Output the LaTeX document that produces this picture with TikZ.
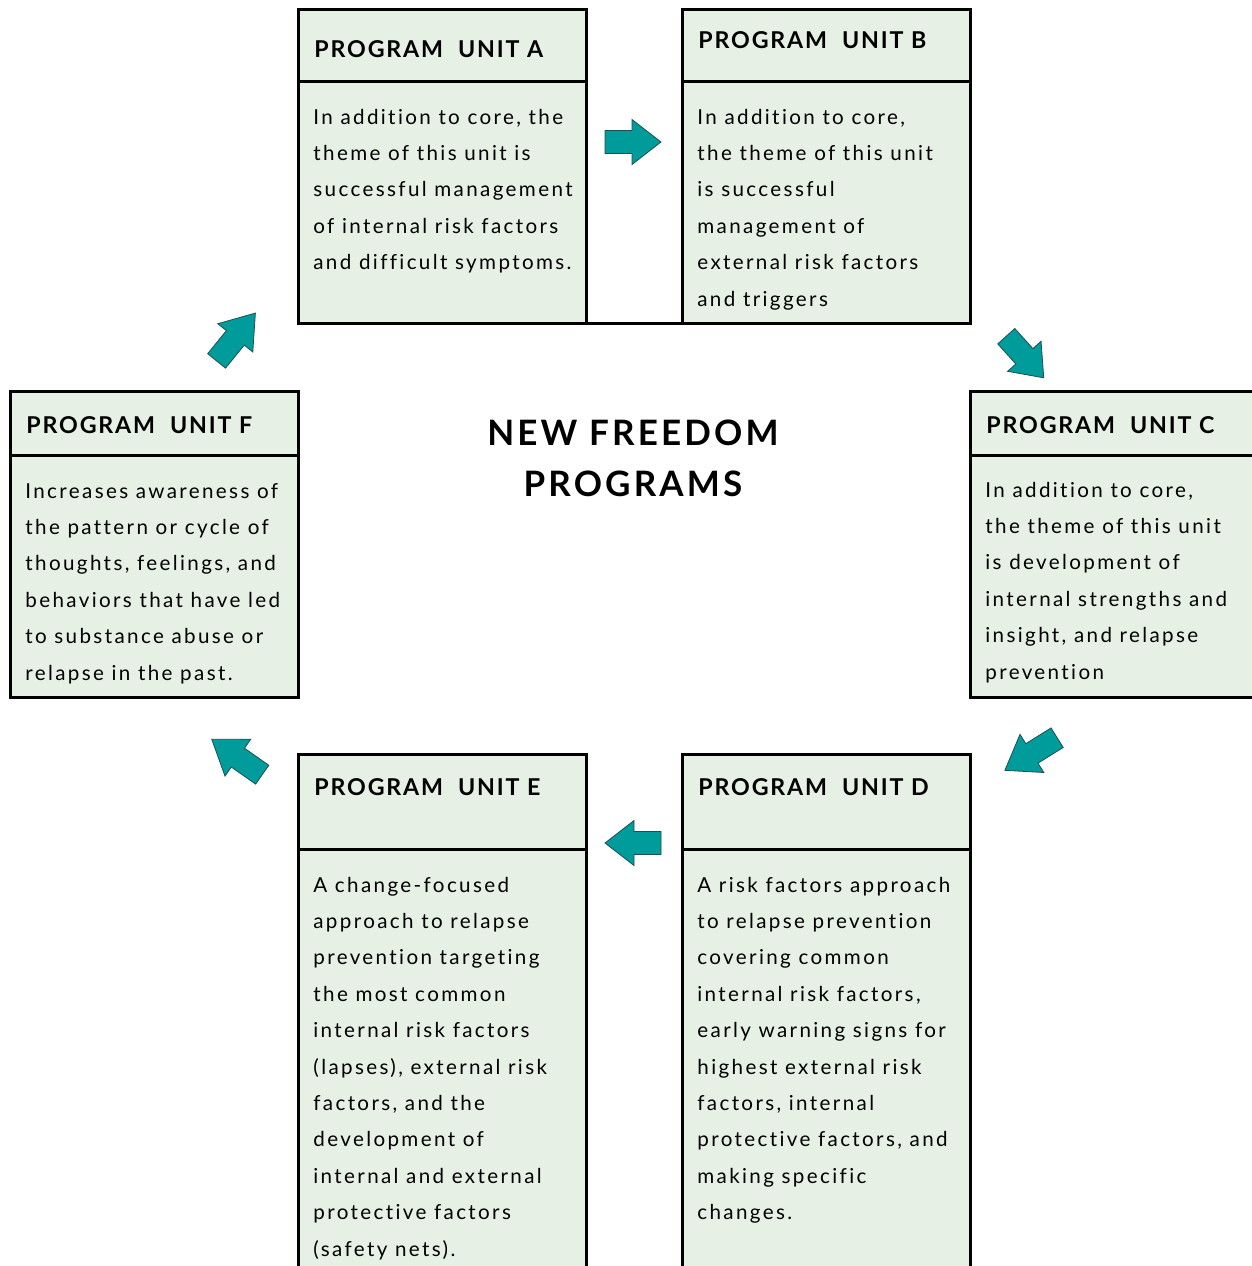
\documentclass[tikz,border=0pt]{standalone}
\usepackage{fontspec}
\setmainfont{Lato}
\newfontfamily\bodyfont{Lato}[LetterSpace=11.5,Ligatures={NoCommon,NoRare,NoContextual}]
\newfontfamily\headfont{Lato}[LetterSpace=8]
\newfontfamily\titlefont{Lato}[LetterSpace=9]
\definecolor{boxfill}{HTML}{E6F0E5}
\definecolor{teal}{HTML}{009C9C}
\definecolor{tealedge}{HTML}{1E4F4F}
\tikzset{
  unitbox/.style={fill=boxfill,draw=black,line width=1.5pt},
  divider/.style={draw=black,line width=1.5pt},
  headtxt/.style={anchor=base west,inner sep=0pt,font=\headfont\bfseries\fontsize{11.6}{14}\selectfont},
  bodytxt/.style={anchor=base west,inner sep=0pt,align=left,font=\bodyfont\fontsize{10.3}{18.2}\selectfont},
  titletxt/.style={inner sep=0pt,align=center,font=\titlefont\bfseries\fontsize{17.5}{25.5}\selectfont},
  pics/blockarrow/.style={code={
    \draw[fill=teal,draw=tealedge,line width=0.4pt]
      (-28,-11.5) -- (-1,-11.5) -- (-1,-22.5) -- (28,0) -- (-1,22.5) -- (-1,11.5) -- (-28,11.5) -- cycle;
  }}
}
\begin{document}
\begin{tikzpicture}[x=0.5pt,y=-0.5pt]
\useasboundingbox (0,0) rectangle (1252,1266);
\begin{scope}
\clip (0,0) rectangle (1252,1266);
% boxes
\draw[unitbox] (298,9) rectangle (586,323);
\draw[divider] (298,81) -- (586,81);
\draw[unitbox] (682,9) rectangle (970,323);
\draw[divider] (682,81) -- (970,81);
\draw[divider] (586,323) -- (682,323);
\draw[unitbox] (970,391) rectangle (1262,697);
\draw[divider] (970,455) -- (1262,455);
\draw[unitbox] (10,391) rectangle (298,697);
\draw[divider] (10,455) -- (298,455);
\draw[unitbox] (298,754) rectangle (586,1280);
\draw[divider] (298,849) -- (586,849);
\draw[unitbox] (682,754) rectangle (970,1280);
\draw[divider] (682,849) -- (970,849);
\end{scope}
% headers
\node[headtxt] (hA) at (314,57) {PROGRAM\ \ UNIT A};
\node[headtxt] (hB) at (698,48) {PROGRAM\ \ UNIT B};
\node[headtxt] (hC) at (986,433) {PROGRAM\ \ UNIT C};
\node[headtxt] (hF) at (26,433) {PROGRAM\ \ UNIT F};
\node[headtxt] (hE) at (314,795) {PROGRAM\ \ UNIT E};
\node[headtxt] (hD) at (698,795) {PROGRAM\ \ UNIT D};
% bodies (anchored at the baseline of the last line)
\node[bodytxt] (bA) at (313,269.6) {In addition to core, the\\theme of this unit is\\successful management\\of internal risk factors\\and difficult symptoms.};
\node[bodytxt] (bB) at (697,306) {In addition to core,\\the theme of this unit\\is successful\\management of\\external risk factors\\and triggers};
\node[bodytxt] (bC) at (985,679) {In addition to core,\\the theme of this unit\\is development of\\internal strengths and\\insight, and relapse\\prevention};
\node[bodytxt] (bF) at (25,680) {Increases awareness of\\the pattern or cycle of\\thoughts, feelings, and\\behaviors that have led\\to substance abuse or\\relapse in the past.};
\node[bodytxt] (bE) at (313,1256) {A change-focused\\approach to relapse\\prevention targeting\\the most common\\internal risk factors\\(lapses), external risk\\factors, and the\\development of\\internal and external\\protective factors\\(safety nets).};
\node[bodytxt] (bD) at (697,1219.6) {A risk factors approach\\to relapse prevention\\covering common\\internal risk factors,\\early warning signs for\\highest external risk\\factors, internal\\protective factors, and\\making specific\\changes.};
% title
\node[titletxt] (title) at (633,458) {NEW FREEDOM\\PROGRAMS};
% arrows
\pic at (633,142) {blockarrow};
\pic[rotate=180] at (633,843) {blockarrow};
\pic[rotate=-48] at (1025,357) {blockarrow};
\pic[rotate=-148,xscale=1.1] at (1031,754) {blockarrow};
\pic[rotate=145,xscale=1.1] at (237,757) {blockarrow};
\pic[rotate=51,xscale=1.1] at (236,337) {blockarrow};
\end{tikzpicture}
\end{document}
